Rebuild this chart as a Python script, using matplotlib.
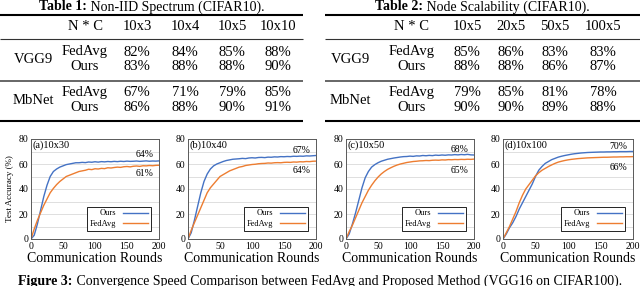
import numpy as np
import matplotlib
matplotlib.use("Agg")
import matplotlib.pyplot as plt

plt.rcParams['font.family'] = ['Liberation Serif', 'DejaVu Serif']

# ---- table data ----
t1_title = ("Table 1:", " Non-IID Spectrum (CIFAR10).")
t1_cols = ["10x3", "10x4", "10x5", "10x10"]
t1_vgg_fedavg = ["82%", "84%", "85%", "88%"]
t1_vgg_ours = ["83%", "88%", "88%", "90%"]
t1_mb_fedavg = ["67%", "71%", "79%", "85%"]
t1_mb_ours = ["86%", "88%", "90%", "91%"]

t2_title = ("Table 2:", " Node Scalability (CIFAR10).")
t2_cols = ["10x5", "20x5", "50x5", "100x5"]
t2_vgg_fedavg = ["85%", "86%", "83%", "83%"]
t2_vgg_ours = ["88%", "88%", "86%", "87%"]
t2_mb_fedavg = ["79%", "85%", "81%", "78%"]
t2_mb_ours = ["90%", "90%", "89%", "88%"]

# ---- curve data (every 5 rounds) ----
rounds = np.arange(0, 201, 5)

a_ours = [0, 3, 12, 23, 34, 43, 50, 54, 56, 57.5, 58.5, 59.5, 60, 60.5, 61, 61, 61.3, 61.1, 61.6, 61.4,
          61.8, 61.5, 61.9, 61.7, 62, 61.8, 62.1, 61.9, 62.2, 62, 62.3, 62.1, 62.2, 62.4, 62.1, 62.3,
          62.5, 62.2, 62.4, 62.3, 62.5]
a_fedavg = [0, 8, 15, 21, 27, 32, 37, 40.5, 43.5, 46, 48, 50, 51, 52, 53, 54, 54.5, 55, 55.8, 55.5,
            56.2, 56, 56.5, 56.3, 57, 56.8, 57.2, 57.5, 57.3, 57.8, 58, 57.7, 58.2, 58.4, 58.1, 58.6,
            58.5, 58.8, 58.6, 58.9, 59]

b_ours = [0, 5, 15, 26, 37, 46, 52, 56, 58.5, 60, 61, 62, 62.8, 63.3, 63.8, 64, 64.2, 64.5, 64.3, 64.8,
          65, 64.8, 65.2, 65.3, 65.1, 65.5, 65.4, 65.7, 65.6, 65.9, 65.8, 66, 65.9, 66.2, 66.1, 66.3,
          66.2, 66.5, 66.4, 66.6, 66.8]
b_fedavg = [0, 7, 13, 19, 25, 31, 37, 41, 44, 47, 50, 51.5, 53, 54.5, 55.5, 56.5, 57.5, 58, 58.8, 59.2,
            59.6, 59.8, 60.2, 60.4, 60.5, 60.8, 60.7, 61, 61.1, 61, 61.3, 61.4, 61.3, 61.6, 61.5, 61.8,
            61.7, 62, 61.9, 62.2, 62.3]

c_ours = [0, 4, 12, 21, 31, 41, 49, 54, 57.5, 59.5, 61, 62.2, 63, 63.8, 64.3, 64.8, 65.2, 65.6, 65.9, 66,
          66.3, 66.1, 66.5, 66.4, 66.8, 66.6, 66.9, 66.7, 67.1, 66.9, 67.2, 67, 67.3, 67.2, 67.5, 67.3,
          67.6, 67.4, 67.7, 67.3, 67.2]
c_fedavg = [0, 6, 11, 17, 23, 29, 34, 39, 43, 46.5, 49.5, 52, 54, 55.7, 57, 58.2, 59.2, 60, 60.6, 61.2,
            61.6, 62, 62.2, 62.5, 62.6, 62.8, 62.7, 63, 63.1, 63, 63.3, 63.2, 63.5, 63.4, 63.6, 63.5,
            63.7, 63.6, 63.8, 63.7, 63.9]

d_ours = [0, 4, 9, 13, 18, 24, 29, 34, 39, 44, 50, 55, 58, 60.5, 62, 63.5, 64.5, 65.5, 66.2, 66.8,
          67.3, 67.8, 68.2, 68.5, 68.8, 69, 69.2, 69.3, 69.4, 69.5, 69.6, 69.6, 69.7, 69.7, 69.8, 69.8,
          69.9, 69.9, 69.9, 70, 70]
d_fedavg = [0, 5, 10, 16, 22, 29, 35, 40, 43.5, 47, 50.5, 53, 55, 56.5, 58, 59.3, 60.5, 61.5, 62.2, 62.8,
            63.3, 63.7, 64, 64.3, 64.5, 64.7, 64.9, 65, 65.1, 65.2, 65.3, 65.4, 65.4, 65.5, 65.6, 65.6,
            65.7, 65.7, 65.8, 65.8, 65.9]

panels = ["(a)10x30", "(b)10x40", "(c)10x50", "(d)10x100"]
ours_all = [a_ours, b_ours, c_ours, d_ours]
fedavg_all = [a_fedavg, b_fedavg, c_fedavg, d_fedavg]
top_labels = ["64%", "67%", "68%", "70%"]
low_labels = ["61%", "64%", "65%", "66%"]
top_y = [67.5, 70.5, 72, 74]
low_y = [52, 54.5, 55, 57]

BLUE = '#4472C4'
ORANGE = '#ED7D31'

W, H = 640, 286
fig = plt.figure(figsize=(6.4, 2.86), dpi=100)

# overlay axes in pixel coordinates for the tables/caption
bg = fig.add_axes([0, 0, 1, 1])
bg.set_xlim(0, W)
bg.set_ylim(H, 0)
bg.axis('off')

renderer = fig.canvas.get_renderer()


def bold_title(cx, y, parts, size=10):
    t1 = bg.text(0, y, parts[0], fontsize=size, fontweight='bold', va='baseline', ha='left')
    t2 = bg.text(0, y, parts[1], fontsize=size, va='baseline', ha='left')
    w1 = t1.get_window_extent(renderer).width
    w2 = t2.get_window_extent(renderer).width
    x0 = cx - (w1 + w2) / 2
    t1.set_x(x0)
    t2.set_x(x0 + w1)


def draw_table(x0, x1, colx, title, cols, vf, vo, mf, mo):
    fs = 10.5
    bold_title((x0 + x1) / 2, 10.5, title)
    bg.plot([x0, x1], [15, 15], color='black', lw=1.5, solid_capstyle='butt')
    bg.plot([x0, x1], [39, 39], color='#333333', lw=0.8, solid_capstyle='butt')
    bg.plot([x0, x1], [80.5, 80.5], color='#666666', lw=1.4, solid_capstyle='butt')
    bg.plot([x0, x1], [120.5, 120.5], color='black', lw=1.5, solid_capstyle='butt')
    bg.text(colx[1], 27, "N * C", fontsize=fs, ha='center', va='center')
    for cx, c in zip(colx[2:], cols):
        bg.text(cx, 27, c, fontsize=fs, ha='center', va='center')
    for name, yc, fed, ours in [("VGG9", 59.5, vf, vo), ("MbNet", 100, mf, mo)]:
        bg.text(colx[0], yc, name, fontsize=fs, ha='center', va='center')
        bg.text(colx[1], yc - 7.5, "FedAvg", fontsize=fs, ha='center', va='center')
        bg.text(colx[1], yc + 7.5, "Ours", fontsize=fs, ha='center', va='center')
        for cx, f, o in zip(colx[2:], fed, ours):
            bg.text(cx, yc - 7.5, f, fontsize=fs, ha='center', va='center')
            bg.text(cx, yc + 7.5, o, fontsize=fs, ha='center', va='center')


draw_table(0, 303, [33, 85, 137, 185, 232, 278], t1_title, t1_cols,
           t1_vgg_fedavg, t1_vgg_ours, t1_mb_fedavg, t1_mb_ours)
draw_table(325, 640, [350, 412, 467, 511, 555, 603], t2_title, t2_cols,
           t2_vgg_fedavg, t2_vgg_ours, t2_mb_fedavg, t2_mb_ours)

# caption (partly cut at the bottom like the source)
bold_title(W / 2, 285, ("Figure 3:", " Convergence Speed Comparison between FedAvg and Proposed Method (VGG16 on CIFAR100)."))

# ---- line plots ----
lefts = [31, 188, 346, 503]
widths = [128, 128, 128, 130]
ax_top, ax_bot = 139, 239
for i in range(4):
    ax = fig.add_axes([lefts[i] / W, (H - ax_bot) / H, widths[i] / W, (ax_bot - ax_top) / H])
    ax.plot(rounds, ours_all[i], color=BLUE, lw=1.0, label="Ours")
    ax.plot(rounds, fedavg_all[i], color=ORANGE, lw=1.0, label="FedAvg")
    ax.set_xlim(0, 200)
    ax.set_ylim(0, 80)
    ax.set_xticks([0, 50, 100, 150, 200])
    ax.set_yticks([0, 20, 40, 60, 80])
    ax.set_yticks(np.arange(10, 80, 10), minor=True)
    ax.grid(True, which='both', axis='y', color='#d9d9d9', lw=0.6)
    ax.set_axisbelow(True)
    ax.tick_params(which='both', length=0, labelsize=7, pad=2)
    for s in ax.spines.values():
        s.set_color('#595959')
        s.set_linewidth(0.7)
    ax.set_xlabel("Communication Rounds", fontsize=10, labelpad=1)
    if i == 0:
        ax.set_ylabel("Test Accuracy (%)", fontsize=6.5, labelpad=3)
    ax.text(0.015, 0.985, panels[i], transform=ax.transAxes, fontsize=7.5, ha='left', va='top')
    ax.text(178, top_y[i], top_labels[i], fontsize=7, ha='center', va='center')
    ax.text(178, low_y[i], low_labels[i], fontsize=7, ha='center', va='center')
    leg = ax.legend(loc='lower right', fontsize=6, markerfirst=False, fancybox=False,
                    framealpha=1, edgecolor='black', handlelength=3.0, borderpad=0.35,
                    labelspacing=0.3, bbox_to_anchor=(0.97, 0.04))
    leg.get_frame().set_linewidth(0.6)

fig.savefig("out.png", dpi=100)
